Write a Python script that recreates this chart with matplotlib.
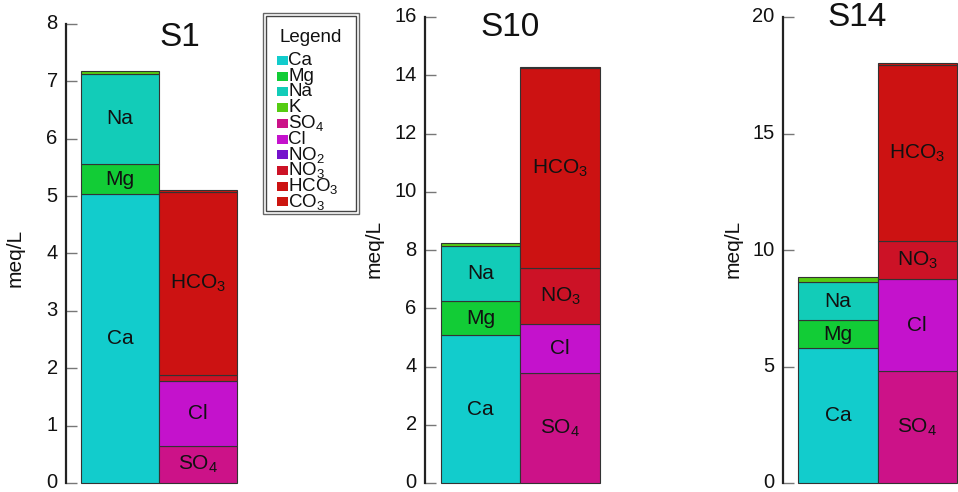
import matplotlib
matplotlib.use("Agg")
import matplotlib.pyplot as plt
from matplotlib.patches import Rectangle
from matplotlib.transforms import ScaledTranslation

plt.rcParams['font.family'] = ['Liberation Sans', 'DejaVu Sans']
plt.rcParams['mathtext.fontset'] = 'custom'
plt.rcParams['mathtext.rm'] = 'Liberation Sans'
plt.rcParams['mathtext.it'] = 'Liberation Sans:italic'
plt.rcParams['mathtext.default'] = 'regular'

# ---------------- data ----------------
samples = ['S1', 'S10', 'S14']
cation_names = ['Ca', 'Mg', 'Na', 'K']
anion_names = ['SO4', 'Cl', 'NO2', 'NO3', 'HCO3', 'CO3']
cation_labels = ['Ca', 'Mg', 'Na', 'K']
anion_labels = ['SO$_4$', 'Cl', 'NO$_2$', 'NO$_3$', 'HCO$_3$', 'CO$_3$']

Ca = [5.03, 5.08, 5.79]
Mg = [0.53, 1.17, 1.20]
Na = [1.57, 1.90, 1.64]
K = [0.05, 0.08, 0.19]
SO4 = [0.64, 3.78, 4.81]
Cl = [1.13, 1.68, 3.94]
NO2 = [0.00, 0.00, 0.00]
NO3 = [0.12, 1.93, 1.64]
HCO3 = [3.18, 6.85, 7.55]
CO3 = [0.04, 0.03, 0.09]

ylims = [8, 16, 20]
ystep = [1, 2, 5]

colors = {
    'Ca': '#12CCCC', 'Mg': '#12CC36', 'Na': '#12CCB8', 'K': '#55CC12',
    'SO4': '#CC1288', 'Cl': '#C412CC', 'NO2': '#7412CC', 'NO3': '#CC1226',
    'HCO3': '#CC1212', 'CO3': '#CC1610',
}
cations = [Ca, Mg, Na, K]
anions = [SO4, Cl, NO2, NO3, HCO3, CO3]

# ---------------- layout (pixels) ----------------
W, H = 958, 492
panels = [  # left, right, top, bottom, x offset
    (66, 237, 24, 483, 0.19),
    (425, 600, 17, 483, 0.20),
    (783, 957, 17, 483, 0.19),
]
title_pos = [(180, 38), (510, 27), (857, 18)]
ylabel_pos = [(15, 258), (374, 249), (733, 249)]

fig = plt.figure(figsize=(W / 100, H / 100), dpi=100)


def fx(x):
    return x / W


def fy(y):
    return 1 - y / H


shift_up = ScaledTranslation(0, 2 / 100, fig.dpi_scale_trans)

for i, s in enumerate(samples):
    l, r, t, b, off = panels[i]
    ax = fig.add_axes([fx(l), fy(b), (r - l) / W, (b - t) / H])
    ax.set_xlim(-off, 2)
    ax.set_ylim(0, ylims[i])
    for side in ['top', 'right', 'bottom']:
        ax.spines[side].set_visible(False)
    ax.spines['left'].set_color('#222222')
    ax.spines['left'].set_linewidth(1.6)
    ax.set_xticks([])
    ax.set_yticks(range(0, ylims[i] + 1, ystep[i]))
    ax.tick_params(axis='y', direction='in', length=8, width=1, color='#777777',
                   pad=6, labelsize=14.5, labelcolor='#111111')
    for lbl in ax.get_yticklabels():
        lbl.set_transform(lbl.get_transform() + shift_up)
    thr = 0.045 * ylims[i]
    for xpos, group, names, labels in [(0, cations, cation_names, cation_labels),
                                       (1, anions, anion_names, anion_labels)]:
        bottom = 0
        for vals, n, lab in zip(group, names, labels):
            v = vals[i]
            if v <= 0:
                continue
            ax.bar(xpos, v, width=1, bottom=bottom, align='edge',
                   color=colors[n], edgecolor='#333333', linewidth=0.8,
                   clip_on=False)
            if v > thr:
                ax.text(xpos + 0.5, bottom + v / 2, lab, ha='center', va='center',
                        fontsize=15, color='#111111')
            bottom += v
    tx, ty = title_pos[i]
    fig.text(fx(tx), fy(ty), s, ha='center', va='center', fontsize=24,
             color='#111111')
    lx, lyy = ylabel_pos[i]
    fig.text(fx(lx), fy(lyy), 'meq/L', rotation=90, ha='center', va='center',
             fontsize=15, color='#111111')

# ---------------- legend ----------------
lx0, lx1, ly0, ly1 = 263, 359, 13, 214
fig.add_artist(Rectangle((fx(lx0), fy(ly1)), (lx1 - lx0) / W, (ly1 - ly0) / H,
                         transform=fig.transFigure, fill=False,
                         edgecolor='#666666', linewidth=1))
fig.add_artist(Rectangle((fx(lx0 + 3), fy(ly1 - 3)), (lx1 - lx0 - 6) / W,
                         (ly1 - ly0 - 6) / H, transform=fig.transFigure,
                         fill=False, edgecolor='#444444', linewidth=1))
fig.text(fx(311), fy(38), 'Legend', ha='center', va='center', fontsize=13.5,
         color='#111111')
leg_names = cation_names + anion_names
leg_labels = cation_labels + anion_labels
for k, (n, lab) in enumerate(zip(leg_names, leg_labels)):
    cy = 60.5 + k * 15.7
    fig.add_artist(Rectangle((fx(277), fy(cy + 4.5)), 11 / W, 9 / H,
                             transform=fig.transFigure, facecolor=colors[n],
                             edgecolor='none'))
    fig.text(fx(288), fy(cy), lab, ha='left', va='center', fontsize=13.5,
             color='#111111')

fig.savefig('out.png', dpi=100)
